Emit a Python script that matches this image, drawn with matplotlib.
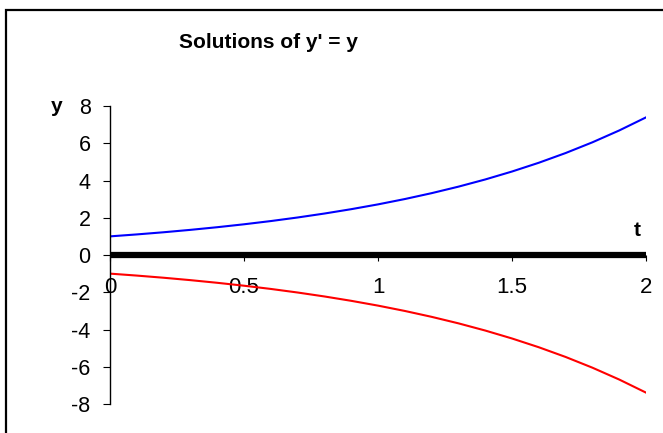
import matplotlib
matplotlib.use("Agg")
import matplotlib.pyplot as plt
from matplotlib.patches import Rectangle

# Sampled solutions of y' = y at t = 0, 0.1, ..., 2
t_values = [0.0, 0.1, 0.2, 0.3, 0.4, 0.5, 0.6, 0.7, 0.8, 0.9, 1.0,
            1.1, 1.2, 1.3, 1.4, 1.5, 1.6, 1.7, 1.8, 1.9, 2.0]
y_upper = [1.00, 1.105, 1.221, 1.350, 1.492, 1.649, 1.822, 2.014, 2.226, 2.460, 2.718,
           3.004, 3.320, 3.669, 4.055, 4.482, 4.953, 5.474, 6.050, 6.686, 7.389]
y_lower = [-1.00, -1.105, -1.221, -1.350, -1.492, -1.649, -1.822, -2.014, -2.226, -2.460, -2.718,
           -3.004, -3.320, -3.669, -4.055, -4.482, -4.953, -5.474, -6.050, -6.686, -7.389]

x_ticks = [0, 0.5, 1, 1.5, 2]
x_tick_labels = ["0", "0.5", "1", "1.5", "2"]
y_ticks = [-8, -6, -4, -2, 0, 2, 4, 6, 8]
y_tick_labels = ["-8", "-6", "-4", "-2", "0", "2", "4", "6", "8"]

plt.rcParams['font.family'] = ['Liberation Sans', 'DejaVu Sans']

W, H = 663, 433
fig = plt.figure(figsize=(W / 100, H / 100), dpi=100)
fig.patch.set_facecolor("white")

# chart frame
fig.patches.append(Rectangle((6 / W, -0.05), 1.1, (H - 10) / H + 0.05,
                             transform=fig.transFigure, fill=False,
                             edgecolor="black", linewidth=1.6))

ax = fig.add_axes([110 / W, (H - 404) / H, (646 - 110) / W, (404 - 106) / H])
ax.plot(t_values, y_upper, color="#0000ff", linewidth=1.5)
ax.plot(t_values, y_lower, color="#ff0000", linewidth=1.5)

ax.set_xlim(0, 2)
ax.set_ylim(-8, 8)

for side in ("top", "right"):
    ax.spines[side].set_visible(False)
ax.spines["left"].set_linewidth(1.0)
ax.spines["bottom"].set_position(("data", 0))
ax.spines["bottom"].set_linewidth(4.5)
ax.spines["bottom"].set_capstyle("butt")

ax.set_xticks(x_ticks)
ax.set_xticklabels(x_tick_labels, fontsize=16)
ax.set_yticks(y_ticks)
ax.set_yticklabels(y_tick_labels, fontsize=15.5)
ax.tick_params(axis="x", direction="out", length=4.5, width=0.8, pad=11.5)
ax.tick_params(axis="y", direction="out", length=5, width=0.8, pad=9)

fig.text(268 / W, 1 - 43 / H, "Solutions of y' = y", fontsize=15, fontweight="bold",
         ha="center", va="center")
fig.text(57 / W, 1 - 107 / H, "y", fontsize=15, fontweight="bold",
         ha="center", va="center")
fig.text(637 / W, 1 - 231 / H, "t", fontsize=15, fontweight="bold",
         ha="center", va="center")

fig.savefig("out.png", dpi=100)
